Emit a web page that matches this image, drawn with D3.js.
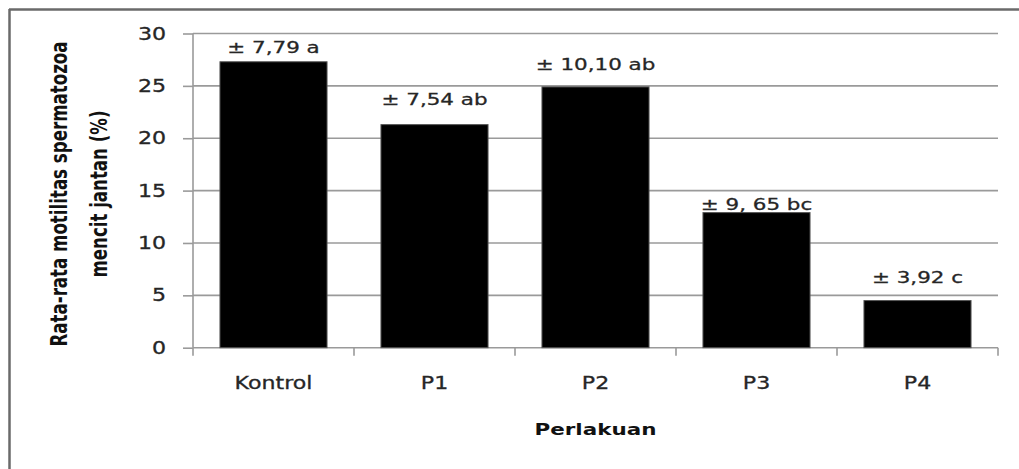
<!DOCTYPE html>
<html><head><meta charset="utf-8">
<script src="https://cdn.jsdelivr.net/npm/d3@7"></script>
<style>
html,body{margin:0;padding:0;background:#fff;}
svg{display:block;}
</style></head>
<body>
<svg id="c" width="1019" height="469"></svg>
<script>
// ---- data ----
const categories = ["Kontrol", "P1", "P2", "P3", "P4"];
const meanValues = [27.3, 21.3, 24.9, 12.9, 4.5];
const sdLabels = ["± 7,79 a", "± 7,54 ab", "± 10,10 ab", "± 9, 65 bc", "± 3,92 c"];
const yTicks = [0, 5, 10, 15, 20, 25, 30];
const yTitleLines = ["Rata-rata motilitas spermatozoa", "mencit jantan (%)"];
const xTitle = "Perlakuan";

// ---- style ----
const SX = 1.3;               // horizontal stretch of the original picture
const labelGap = [9, 20, 17, 3, 18];
const textColor = "#262626";
const gridColor = "#9a9a9a";
const font = "'DejaVu Sans', Verdana, sans-serif";

const svg = d3.select("#c");
const pLeft = 193, pRight = 998, pTop = 33.5, pBottom = 347.7;

const x = d3.scaleBand().domain(categories).range([pLeft, pRight]).padding(0);
const y = d3.scaleLinear().domain([0, 30]).range([pBottom, pTop]);
const barW = x.bandwidth() * 0.665;

// outer frame (left and top edges)
svg.append("line").attr("x1", 9.5).attr("x2", 9.5).attr("y1", 9).attr("y2", 469)
  .attr("stroke", "#6a6a6a").attr("stroke-width", 2.5);
svg.append("line").attr("x1", 9).attr("x2", 1019).attr("y1", 9.5).attr("y2", 9.5)
  .attr("stroke", "#6a6a6a").attr("stroke-width", 2.5);

// gridlines
svg.append("g").selectAll("line").data(yTicks.filter(d => d > 0)).join("line")
  .attr("x1", pLeft).attr("x2", pRight)
  .attr("y1", d => y(d)).attr("y2", d => y(d))
  .attr("stroke", gridColor).attr("stroke-width", 1.6);

// y axis
const yAxis = svg.append("g").attr("transform", `translate(${pLeft},0)`)
  .call(d3.axisLeft(y).tickValues(yTicks).tickSize(10).tickPadding(17).tickFormat(d3.format("d")));
yAxis.select(".domain").attr("stroke", gridColor).attr("stroke-width", 1.6)
  .attr("d", `M0,${pTop}V${pBottom}`);
yAxis.selectAll(".tick line").attr("stroke", gridColor).attr("stroke-width", 1.6);
yAxis.selectAll(".tick text").each(function(){
  const t = d3.select(this);
  const xx = +t.attr("x");
  t.attr("x", 0).attr("dy", null).attr("dominant-baseline", "central")
   .attr("transform", `translate(${xx},0) scale(${SX},1)`);
}).attr("font-family", font).attr("font-size", 17).attr("fill", textColor)
  .attr("stroke", textColor).attr("stroke-width", 0.3);

// x axis line and ticks at category boundaries
const bounds = categories.map(c => x(c)).concat([pRight]);
svg.append("line").attr("x1", pLeft).attr("x2", pRight).attr("y1", pBottom).attr("y2", pBottom)
  .attr("stroke", gridColor).attr("stroke-width", 1.6);
svg.append("g").selectAll("line").data(bounds).join("line")
  .attr("x1", d => d).attr("x2", d => d).attr("y1", pBottom).attr("y2", pBottom + 8)
  .attr("stroke", gridColor).attr("stroke-width", 1.6);

// bars
svg.append("g").selectAll("rect").data(categories).join("rect")
  .attr("x", d => x(d) + (x.bandwidth() - barW) / 2)
  .attr("width", barW)
  .attr("y", (d, i) => y(meanValues[i]))
  .attr("height", (d, i) => y(0) - y(meanValues[i]))
  .attr("fill", "#000").attr("stroke", "#555").attr("stroke-width", 1);

// value labels
svg.append("g").selectAll("text").data(categories).join("text")
  .attr("transform", (d, i) => `translate(${x(d) + x.bandwidth() / 2},${y(meanValues[i]) - labelGap[i]}) scale(${SX},1)`)
  .attr("text-anchor", "middle")
  .attr("font-family", font).attr("font-size", 16.5).attr("fill", textColor)
  .attr("stroke", textColor).attr("stroke-width", 0.3)
  .text((d, i) => sdLabels[i]);

// category labels
svg.append("g").selectAll("text").data(categories).join("text")
  .attr("transform", d => `translate(${x(d) + x.bandwidth() / 2},389) scale(${SX},1)`)
  .attr("text-anchor", "middle")
  .attr("font-family", font).attr("font-size", 17).attr("fill", textColor)
  .attr("stroke", textColor).attr("stroke-width", 0.3)
  .text(d => d);

// x title
svg.append("text")
  .attr("transform", `translate(${x(categories[2]) + x.bandwidth() / 2},435) scale(${SX},1)`)
  .attr("text-anchor", "middle")
  .attr("font-family", font).attr("font-size", 16.5).attr("font-weight", "bold").attr("fill", "#111")
  .text(xTitle);

// y title (two lines, rotated)
const yTitleX = [67, 107];
const yTitleLen = [305, 167];
svg.append("g").selectAll("text").data(yTitleLines).join("text")
  .attr("transform", (d, i) => `translate(${yTitleX[i]},194) scale(${SX},1) rotate(-90)`)
  .attr("text-anchor", "middle")
  .attr("font-family", "'DejaVu Sans Condensed', 'DejaVu Sans', sans-serif")
  .attr("font-size", 17).attr("font-weight", "bold").attr("fill", "#111")
  .attr("textLength", (d, i) => yTitleLen[i]).attr("lengthAdjust", "spacingAndGlyphs")
  .text(d => d);
</script>
</body></html>
